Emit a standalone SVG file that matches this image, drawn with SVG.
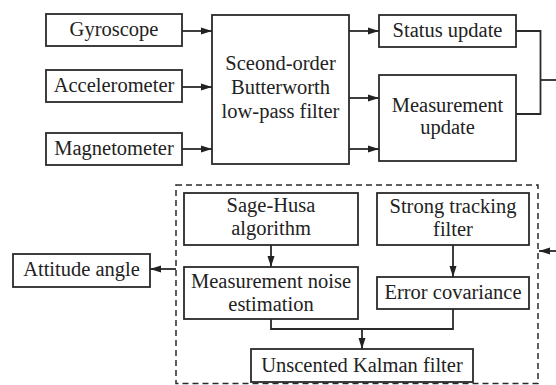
<svg xmlns="http://www.w3.org/2000/svg" width="556" height="385" viewBox="0 0 556 385">
<defs>
<marker id="ah" markerUnits="userSpaceOnUse" markerWidth="12" markerHeight="8" refX="11" refY="4" orient="auto">
<path d="M0,0.5 L11,4 L0,7.5 Z" fill="#222"/>
</marker>
<style>
.box{fill:#fff;stroke:#2a2a2a;stroke-width:1.8}
.t{font-family:"Liberation Serif","Times New Roman",serif;font-size:20.5px;fill:#222;text-anchor:middle}
.c{fill:none;stroke:#2a2a2a;stroke-width:1.8}
.a{fill:none;stroke:#2a2a2a;stroke-width:1.8;marker-end:url(#ah)}
.d{fill:none;stroke:#2a2a2a;stroke-width:1.5;stroke-dasharray:6 4}
</style>
</defs>
<rect width="556" height="385" fill="#fff"/>
<g id="dashed-group"><rect class="d" x="176" y="185" width="362" height="198.5"/></g>
<g id="gyroscope"><rect class="box" x="46" y="14" width="136" height="32"/><text class="t" x="114" y="36">Gyroscope</text></g>
<g id="accelerometer"><rect class="box" x="46" y="70" width="136" height="32"/><text class="t" x="114" y="92">Accelerometer</text></g>
<g id="magnetometer"><rect class="box" x="46" y="133" width="136" height="32"/><text class="t" x="114" y="155">Magnetometer</text></g>
<g id="filter"><rect class="box" x="212" y="15" width="137" height="149"/>
<text class="t" x="280.5" y="70">Sceond-order</text><text class="t" x="280.5" y="94">Butterworth</text><text class="t" x="280.5" y="118">low-pass filter</text></g>
<g id="status-update"><rect class="box" x="379" y="15" width="137" height="32"/><text class="t" x="447.5" y="37">Status update</text></g>
<g id="measurement-update"><rect class="box" x="379" y="75" width="137" height="86"/><text class="t" x="447.5" y="112">Measurement</text><text class="t" x="447.5" y="134">update</text></g>
<g id="attitude-angle"><rect class="box" x="13" y="254" width="137" height="33"/><text class="t" x="81.5" y="276">Attitude angle</text></g>
<g id="sage-husa"><rect class="box" x="184" y="193" width="174" height="52"/><text class="t" x="271" y="212">Sage-Husa</text><text class="t" x="271" y="235">algorithm</text></g>
<g id="strong-tracking"><rect class="box" x="377" y="193" width="152" height="52"/><text class="t" x="453" y="213">Strong tracking</text><text class="t" x="453" y="236">filter</text></g>
<g id="measurement-noise"><rect class="box" x="184" y="267" width="174" height="52"/><text class="t" x="271" y="288">Measurement noise</text><text class="t" x="271" y="311">estimation</text></g>
<g id="error-covariance"><rect class="box" x="377" y="277" width="152" height="32"/><text class="t" x="453" y="299">Error covariance</text></g>
<g id="ukf"><rect class="box" x="251" y="349" width="222" height="33"/><text class="t" x="362" y="372">Unscented Kalman filter</text></g>
<g id="connectors">
<line class="a" x1="182" y1="31" x2="212" y2="31"/>
<line class="a" x1="182" y1="87" x2="212" y2="87"/>
<line class="a" x1="182" y1="149" x2="212" y2="149"/>
<line class="a" x1="349" y1="31" x2="379" y2="31"/>
<line class="a" x1="349" y1="98" x2="379" y2="98"/>
<line class="a" x1="349" y1="149" x2="379" y2="149"/>
<polyline class="c" points="516,31 540.5,31 540.5,114 516,114"/>
<line class="c" x1="540.5" y1="80" x2="556" y2="80"/>
<line class="a" x1="556" y1="251" x2="539" y2="251"/>
<line class="a" x1="176" y1="269" x2="150" y2="269"/>
<line class="a" x1="271" y1="245" x2="271" y2="267"/>
<line class="a" x1="453" y1="245" x2="453" y2="277"/>
<polyline class="c" points="271,319 271,329 453,329 453,309"/>
<line class="a" x1="362" y1="329" x2="362" y2="349"/>
</g>
</svg>
